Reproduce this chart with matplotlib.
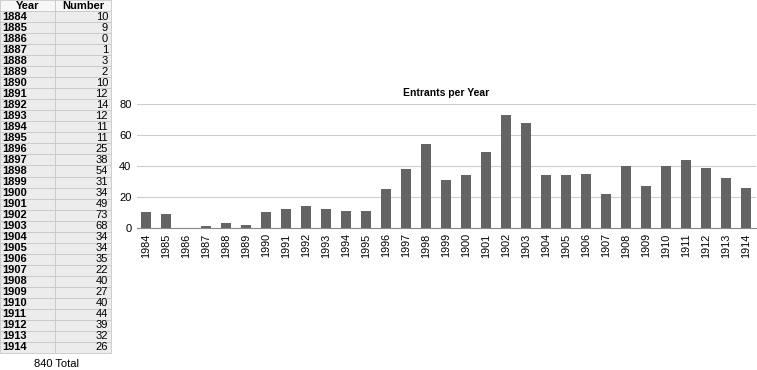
import matplotlib
matplotlib.use("Agg")
import matplotlib.pyplot as plt
from matplotlib.patches import Rectangle

plt.rcParams['font.family'] = ['Liberation Sans', 'DejaVu Sans']

# table data (left)
table_years = list(range(1884, 1915))
numbers = [10, 9, 0, 1, 3, 2, 10, 12, 14, 12, 11, 11, 25, 38, 54, 31,
           34, 49, 73, 68, 34, 34, 35, 22, 40, 27, 40, 44, 39, 32, 26]
# chart tick labels as printed in the original
chart_labels = ['1984', '1985', '1986', '1987', '1988', '1989', '1990', '1991',
                '1992', '1993', '1994', '1995', '1996', '1997', '1998', '1999',
                '1900', '1901', '1902', '1903', '1904', '1905', '1906', '1907',
                '1908', '1909', '1910', '1911', '1912', '1913', '1914']
total_text = '840 Total'

W, H = 757, 370
fig = plt.figure(figsize=(W / 100, H / 100), dpi=100)

# --- table drawn in figure pixel coords ---
row_h = 353 / 32
col_x = [0, 55, 111]
def fy(py):
    return 1 - py / H

for i in range(32):
    top = i * row_h
    color = '#f7f7f7' if i == 0 else '#ececec'
    for c in range(2):
        fig.patches.append(Rectangle((col_x[c] / W, fy(top + row_h)),
                                     (col_x[c + 1] - col_x[c]) / W, row_h / H,
                                     transform=fig.transFigure, facecolor=color,
                                     edgecolor='#c8c8c8', linewidth=0.6))
    yc = fy(top + row_h / 2)
    if i == 0:
        fig.text(27.5 / W, yc, 'Year', ha='center', va='center', fontsize=8, fontweight='bold')
        fig.text(83 / W, yc, 'Number', ha='center', va='center', fontsize=8, fontweight='bold')
    else:
        fig.text(2 / W, yc, str(table_years[i - 1]), ha='left', va='center',
                 fontsize=8, fontweight='bold')
        fig.text(108 / W, yc, str(numbers[i - 1]), ha='right', va='center', fontsize=8)

fig.text(56 / W, fy(364), total_text, ha='center', va='center', fontsize=8)

# --- bar chart ---
ax = fig.add_axes([137 / W, 1 - 227.7 / H, (756 - 137) / W, (227.7 - 104.3) / H])
x = list(range(len(numbers)))
ax.bar(x, numbers, width=0.5, color='#646464', zorder=3)
ax.set_xlim(-0.45, len(numbers) - 0.5)
ax.set_ylim(0, 80)
ax.set_yticks([0, 20, 40, 60, 80])
ax.set_xticks(x)
ax.set_xticklabels(chart_labels, rotation=90, fontsize=7.8)
ax.tick_params(axis='y', labelsize=8, length=0, pad=4)
ax.tick_params(axis='x', length=0, pad=4)
ax.grid(axis='y', color='#cccccc', linewidth=0.8, zorder=0)
for s in ['top', 'right', 'left']:
    ax.spines[s].set_visible(False)
ax.spines['bottom'].set_color('#888888')
ax.spines['bottom'].set_zorder(4)
ax.set_title('Entrants per Year', fontsize=7.5, fontweight='bold', pad=6)

fig.savefig('out.png', dpi=100)
